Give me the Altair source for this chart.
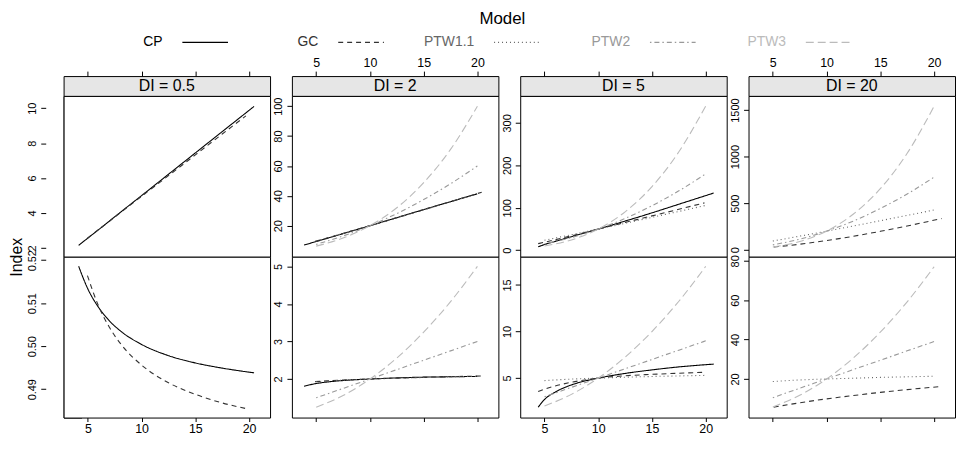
import altair as alt
import pandas as pd

FONT = "Liberation Sans"

MODELS = ["CP", "GC", "PTW1.1", "PTW2", "PTW3"]
MODEL_COLORS = ["#000000", "#333333", "#666666", "#999999", "#bbbbbb"]
MODEL_DASHES = [[1, 0], [5, 4], [1, 3], [1.5, 3, 5, 3], [8, 4]]
DI_LEVELS = ["0.5", "2", "5", "20"]
X_TICKS = [5, 10, 15, 20]

# ---- CP (COM-Poisson) ----
cp_x_05 = [4.14, 5, 6, 7, 8, 10, 12.5, 15, 17.5, 20.46]
cp_di_05 = [0.5186, 0.5133, 0.5090, 0.5059, 0.5036, 0.5004, 0.4978, 0.4961, 0.4949, 0.4938]
cp_mv_05 = [2.15, 2.57, 3.05, 3.54, 4.03, 5.00, 6.22, 7.44, 8.66, 10.10]

cp_x_2 = [3.87, 5, 6, 7.5, 10, 12.5, 15, 17.5, 19.97]
cp_di_2 = [1.81, 1.88, 1.92, 1.96, 2.00, 2.03, 2.05, 2.06, 2.07]
cp_mv_2 = [7.0, 9.4, 11.5, 14.7, 20.0, 25.4, 30.8, 36.1, 41.3]

cp_x_5 = [4.41, 5, 6, 7, 8, 10, 12.5, 15, 17.5, 20.74]
cp_di_5 = [1.87, 2.7, 3.5, 4.05, 4.45, 5.0, 5.5, 5.88, 6.2, 6.5]
cp_mv_5 = [8.2, 13.5, 21.0, 28.4, 35.6, 50.0, 68.8, 88.2, 108.5, 134.8]

# ---- GC (gamma-count) ----
gc_x_05 = [4.96, 6, 7, 8, 10, 12.5, 15, 17.5, 19.7]
gc_di_05 = [0.5164, 0.5093, 0.5044, 0.5007, 0.4956, 0.4915, 0.4888, 0.4868, 0.4855]
gc_mv_05 = [2.56, 3.06, 3.53, 4.01, 4.96, 6.14, 7.33, 8.52, 9.56]

gc_x_2 = [4.9, 6, 7.5, 10, 12.5, 15, 17.5, 20.4]
gc_di_2 = [1.93, 1.95, 1.975, 2.0, 2.025, 2.045, 2.065, 2.08]
gc_mv_2 = [9.5, 11.7, 14.8, 20.0, 25.3, 30.7, 36.1, 42.4]

gc_x_5 = [4.41, 5, 6, 7.5, 10, 12.5, 15, 17.5, 19.88]
gc_di_5 = [3.55, 3.8, 4.15, 4.55, 5.0, 5.25, 5.4, 5.52, 5.62]
gc_mv_5 = [15.7, 19.0, 24.9, 34.1, 50.0, 65.6, 81.0, 96.6, 111.7]

gc_x_20 = [5.09, 7.5, 10, 12.5, 15, 17.5, 20.7]
gc_di_20 = [5.67, 7.9, 9.9, 11.6, 13.2, 14.6, 16.2]
gc_mv_20 = [28.9, 59.3, 99.0, 145.0, 198.0, 255.5, 335.3]

# ---- Poisson-Tweedie ----
ptw_x = [5, 7.5, 10, 12.5, 15, 17.5, 20]

ptw11_di_2 = [1.93, 1.97, 2.00, 2.02, 2.04, 2.06, 2.07]
ptw11_mv_2 = [9.7, 14.8, 20.0, 25.3, 30.6, 36.0, 41.4]
ptw11_di_5 = [4.73, 4.89, 5.00, 5.09, 5.17, 5.23, 5.29]
ptw11_mv_5 = [23.7, 36.7, 50.0, 63.6, 77.6, 91.5, 105.8]
ptw11_di_20 = [18.7, 19.5, 20.0, 20.4, 20.8, 21.1, 21.4]
ptw11_mv_20 = [93.7, 146, 200, 255, 312, 369, 427]

ptw2_di_2 = [1.5, 1.75, 2.0, 2.25, 2.5, 2.75, 3.0]
ptw2_mv_2 = [7.5, 13.1, 20, 28.1, 37.5, 48.1, 60]
ptw2_di_5 = [3, 4, 5, 6, 7, 8, 9]
ptw2_mv_5 = [15, 30, 50, 75, 105, 140, 180]
ptw2_di_20 = [10.5, 15.3, 20, 24.8, 29.5, 34.3, 39]
ptw2_mv_20 = [52.5, 114, 200, 309, 443, 599, 780]

ptw3_di_2 = [1.25, 1.56, 2.0, 2.56, 3.25, 4.06, 5.0]
ptw3_mv_2 = [6.3, 11.7, 20, 32.0, 48.8, 71.1, 100]
ptw3_di_5 = [2.0, 3.25, 5.0, 7.25, 10.0, 13.25, 17.0]
ptw3_mv_5 = [10, 24.4, 50, 90.6, 150, 232, 340]
ptw3_di_20 = [5.75, 11.7, 20, 30.7, 43.8, 59.2, 77]
ptw3_mv_20 = [28.8, 87.7, 200, 384, 656, 1036, 1540]

# ---- axis ranges / tick labels per panel ----
X_DOMAIN = [2.74, 21.95]
Y_DOMAIN = {
    ("0.5", "MV"): [1.5, 10.7], ("0.5", "DI"): [0.4834, 0.5208],
    ("2", "MV"): [-0.8, 106.9], ("2", "DI"): [0.974, 5.256],
    ("5", "MV"): [-15.2, 363.5], ("5", "DI"): [0.76, 18.03],
    ("20", "MV"): [-75, 1652], ("20", "DI"): [0.4, 82.1],
}
Y_VALUES = {
    ("0.5", "MV"): [2, 4, 6, 8, 10], ("0.5", "DI"): [0.49, 0.50, 0.51, 0.52],
    ("2", "MV"): [20, 40, 60, 80, 100], ("2", "DI"): [2, 3, 4, 5],
    ("5", "MV"): [0, 100, 200, 300], ("5", "DI"): [5, 10, 15],
    ("20", "MV"): [0, 500, 1000, 1500], ("20", "DI"): [20, 40, 60, 80],
}

series = [
    ("CP", "0.5", cp_x_05, cp_di_05, cp_mv_05),
    ("CP", "2", cp_x_2, cp_di_2, cp_mv_2),
    ("CP", "5", cp_x_5, cp_di_5, cp_mv_5),
    ("GC", "0.5", gc_x_05, gc_di_05, gc_mv_05),
    ("GC", "2", gc_x_2, gc_di_2, gc_mv_2),
    ("GC", "5", gc_x_5, gc_di_5, gc_mv_5),
    ("GC", "20", gc_x_20, gc_di_20, gc_mv_20),
    ("PTW1.1", "2", ptw_x, ptw11_di_2, ptw11_mv_2),
    ("PTW1.1", "5", ptw_x, ptw11_di_5, ptw11_mv_5),
    ("PTW1.1", "20", ptw_x, ptw11_di_20, ptw11_mv_20),
    ("PTW2", "2", ptw_x, ptw2_di_2, ptw2_mv_2),
    ("PTW2", "5", ptw_x, ptw2_di_5, ptw2_mv_5),
    ("PTW2", "20", ptw_x, ptw2_di_20, ptw2_mv_20),
    ("PTW3", "2", ptw_x, ptw3_di_2, ptw3_mv_2),
    ("PTW3", "5", ptw_x, ptw3_di_5, ptw3_mv_5),
    ("PTW3", "20", ptw_x, ptw3_di_20, ptw3_mv_20),
]
records = []
for model, lvl, xs, di, mv in series:
    for x, a, b in zip(xs, di, mv):
        records.append({"model": model, "level": lvl, "index": "DI", "x": x, "y": a})
        records.append({"model": model, "level": lvl, "index": "MV", "x": x, "y": b})
df = pd.DataFrame(records)

W, H = 208, 162
STRIP_H, STRIP_W = 20, 18
GAP = 22
LEG_W = 884
LEG_H = 20

color_enc = alt.Color("model:N", scale=alt.Scale(domain=MODELS, range=MODEL_COLORS), legend=None)
dash_enc = alt.StrokeDash("model:N", scale=alt.Scale(domain=MODELS, range=MODEL_DASHES), legend=None)

axis_common = dict(domain=False, grid=False, ticks=True, tickColor="black",
                   tickWidth=1, labelColor="black", labelFont=FONT, labelOverlap=False,
                   labelFlush=False)


def panel(i, idx):
    lvl = DI_LEVELS[i]
    sub = df[(df["level"] == lvl) & (df["index"] == idx)]
    if idx == "MV":
        xa = alt.Axis(orient="top", offset=STRIP_H, values=X_TICKS, labels=(i % 2 == 1),
                      tickSize=5, labelFontSize=12.5, labelPadding=2, title=None, **axis_common)
    else:
        xa = alt.Axis(orient="bottom", values=X_TICKS, labels=(i % 2 == 0),
                      tickSize=4, labelFontSize=12.5, labelPadding=1, title=None, **axis_common)
    yk = dict(orient="left", values=Y_VALUES[(lvl, idx)], labelAngle=270, labelAlign="center",
              labelBaseline="bottom", labelFontSize=11, labelPadding=3, tickSize=5,
              format=(".2f" if (lvl == "0.5" and idx == "DI") else "d"), **axis_common)
    if i == 0:
        yk["offset"] = STRIP_W
    if i == 0 and idx == "DI":
        yk.update(title="Index", titleY=0, titleFontSize=16, titleFontWeight="normal",
                  titleAngle=270, titlePadding=2, titleColor="black", titleFont=FONT)
    else:
        yk["title"] = None
    return alt.Chart(sub).mark_line(strokeWidth=1.1, interpolate="monotone").encode(
        x=alt.X("x:Q", scale=alt.Scale(domain=X_DOMAIN, nice=False, zero=False), axis=xa),
        y=alt.Y("y:Q", scale=alt.Scale(domain=Y_DOMAIN[(lvl, idx)], nice=False, zero=False),
                axis=alt.Axis(**yk)),
        color=color_enc,
        strokeDash=dash_enc,
    ).properties(width=W, height=H,
                 view=alt.ViewBackground(fill="white", stroke="black", strokeWidth=1))


def top_strip(i):
    return alt.Chart(pd.DataFrame({"t": [f"DI = {DI_LEVELS[i]}"]})).mark_text(
        fontSize=16, font=FONT, color="black").encode(text="t:N").properties(
        width=W, height=STRIP_H,
        view=alt.ViewBackground(fill="#e6e6e6", stroke="black", strokeWidth=1))


def left_strip(label):
    return alt.Chart(pd.DataFrame({"t": [label]})).mark_text(
        fontSize=16, font=FONT, color="black", angle=270).encode(text="t:N").properties(
        width=STRIP_W, height=H,
        view=alt.ViewBackground(fill="#808080", stroke="black", strokeWidth=1))


blank = alt.Chart(pd.DataFrame({"t": [""]})).mark_text().encode(text="t:N").properties(
    width=STRIP_W, height=STRIP_H,
    view=alt.ViewBackground(fill="transparent", stroke="transparent"))

left_col = alt.vconcat(blank, left_strip("MV"), left_strip("DI"), spacing=0, bounds="flush")

cells = [top_strip(i) for i in range(4)] + [panel(i, "MV") for i in range(4)] + \
        [panel(i, "DI") for i in range(4)]
grid = alt.concat(*cells, columns=4, spacing=alt.RowColnumber(row=0, column=GAP), bounds="flush")

main = alt.hconcat(left_col, grid, spacing=0, bounds="flush")

# ---- key ----
leg = pd.DataFrame({"model": MODELS})
lscale = alt.Scale(type="band", domain=MODELS, paddingInner=0, paddingOuter=0.315)
key_text = alt.Chart(leg).mark_text(align="right", dx=-20, fontSize=14, font=FONT).encode(
    x=alt.X("model:N", scale=lscale, axis=None, bandPosition=0.447),
    text="model:N",
    color=color_enc,
)
key_line = alt.Chart(leg).mark_rule(strokeWidth=1.1).encode(
    x=alt.X("model:N", scale=lscale, axis=None, bandPosition=0.447),
    x2=alt.X2("model:N", bandPosition=0.74),
    y=alt.value(LEG_H / 2),
    color=color_enc,
    strokeDash=dash_enc,
)
legend = alt.layer(key_text, key_line).properties(
    width=LEG_W, height=LEG_H,
    title=alt.TitleParams("Model", fontSize=17, anchor="middle", fontWeight="normal",
                          offset=4.5, font=FONT, color="black"),
    view=alt.ViewBackground(fill="transparent", stroke="transparent"),
)

chart = alt.vconcat(legend, main, spacing=24, bounds="flush").properties(
    padding={"left": 0, "top": 0, "right": 0, "bottom": 0}
).configure(font=FONT, background="white")

chart.save("out.html", embed_options={"renderer": "svg", "actions": False})
